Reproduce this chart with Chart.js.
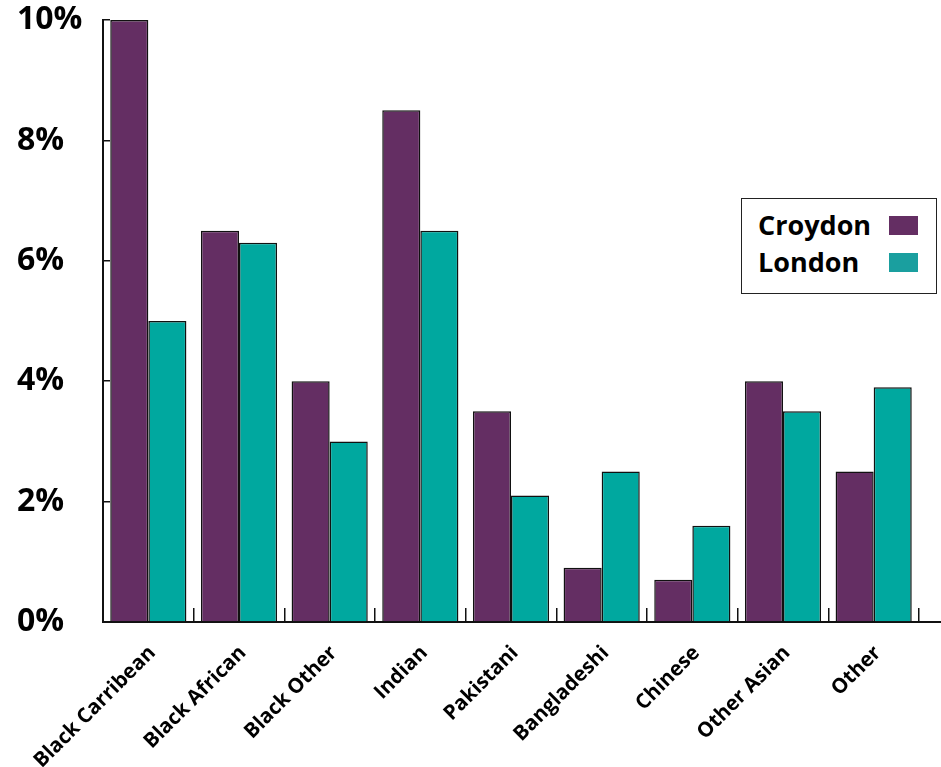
<!DOCTYPE html>
<html>
<head>
<meta charset="utf-8">
<script src="https://cdn.jsdelivr.net/npm/chart.js@4"></script>
<style>
  body { margin: 0; background: #fff; }
  #wrap { position: relative; width: 941px; height: 767px; }
  #legend {
    position: absolute; left: 741px; top: 198px; width: 194px; height: 94px;
    border: 1.5px solid #222; background: #fff;
    font-family: "Open Sans", sans-serif; font-weight: bold; font-size: 27px;
  }
  #legend .row { position: absolute; left: 16px; height: 30px; line-height: 30px; }
  #legend .sw { position: absolute; left: 131px; top: 6px; width: 29px; height: 19px; }
</style>
</head>
<body>
<div id="wrap">
  <canvas id="chart" width="941" height="767"></canvas>
  <div id="legend"></div>
</div>
<script>
const categories = ['Black Carribean', 'Black African', 'Black Other', 'Indian', 'Pakistani',
  'Bangladeshi', 'Chinese', 'Other Asian', 'Other'];
const croydon = [10.0, 6.5, 4.0, 8.5, 3.5, 0.9, 0.7, 4.0, 2.5];
const london = [5.0, 6.3, 3.0, 6.5, 2.1, 2.5, 1.6, 3.5, 3.9];
const yTicks = [0, 2, 4, 6, 8, 10];

const purple = '#642e63';
const teal = '#00a89f';

// x axis line runs on past the last category to the edge
const axisExtend = {
  id: 'axisExtend',
  afterDraw(chart) {
    const c = chart.ctx;
    const y0 = chart.scales.y.getPixelForValue(0);
    c.save();
    c.strokeStyle = '#111';
    c.lineWidth = 2;
    c.beginPath();
    c.moveTo(chart.chartArea.right - 1, y0);
    c.lineTo(chart.width, y0);
    c.stroke();
    c.restore();
  }
};

const ctx = document.getElementById('chart').getContext('2d');
const chart = new Chart(ctx, {
  type: 'bar',
  data: {
    labels: categories,
    datasets: [
      { label: 'Croydon', data: croydon, backgroundColor: purple, borderColor: '#111', borderWidth: 1.5 },
      { label: 'London', data: london, backgroundColor: teal, borderColor: '#111', borderWidth: 1.5 }
    ]
  },
  options: {
    responsive: false,
    animation: false,
    layout: { padding: { top: 20, right: 22, left: 17, bottom: 0 } },
    datasets: { bar: { categoryPercentage: 0.84, barPercentage: 1.0 } },
    plugins: { legend: { display: false }, tooltip: { enabled: false } },
    scales: {
      x: {
        grid: { offset: true, drawOnChartArea: false, color: '#111', lineWidth: 1.5, tickLength: -14 },
        border: { color: '#111', width: 2 },
        ticks: {
          color: '#000', maxRotation: 45, minRotation: 45, padding: 33, labelOffset: 4,
          font: { family: 'Open Sans', weight: 'bold', size: 20.5 }
        },
        afterFit(s) { s.height = 145; s.paddingLeft = 0; s.paddingRight = 0; }
      },
      y: {
        min: 0, max: 10,
        afterBuildTicks(s) { s.ticks = yTicks.map(v => ({ value: v })); },
        grid: { drawOnChartArea: false, color: '#111', lineWidth: 1.5, tickLength: -7 },
        border: { color: '#111', width: 2 },
        ticks: {
          color: '#000', padding: 0, crossAlign: 'far',
          font: { family: 'Open Sans', weight: 'bold', size: 32 },
          callback: v => v + '%'
        },
        afterFit(s) { s.width = 86; }
      }
    }
  },
  plugins: [axisExtend]
});

// legend box: text first, swatch after
const legendEl = document.getElementById('legend');
chart.data.datasets.forEach((ds, i) => {
  const row = document.createElement('div');
  row.className = 'row';
  row.style.top = (11 + i * 37) + 'px';
  row.textContent = ds.label;
  const sw = document.createElement('div');
  sw.className = 'sw';
  sw.style.background = i === 0 ? purple : '#1a9f9f';
  row.appendChild(sw);
  legendEl.appendChild(row);
});
</script>
</body>
</html>
